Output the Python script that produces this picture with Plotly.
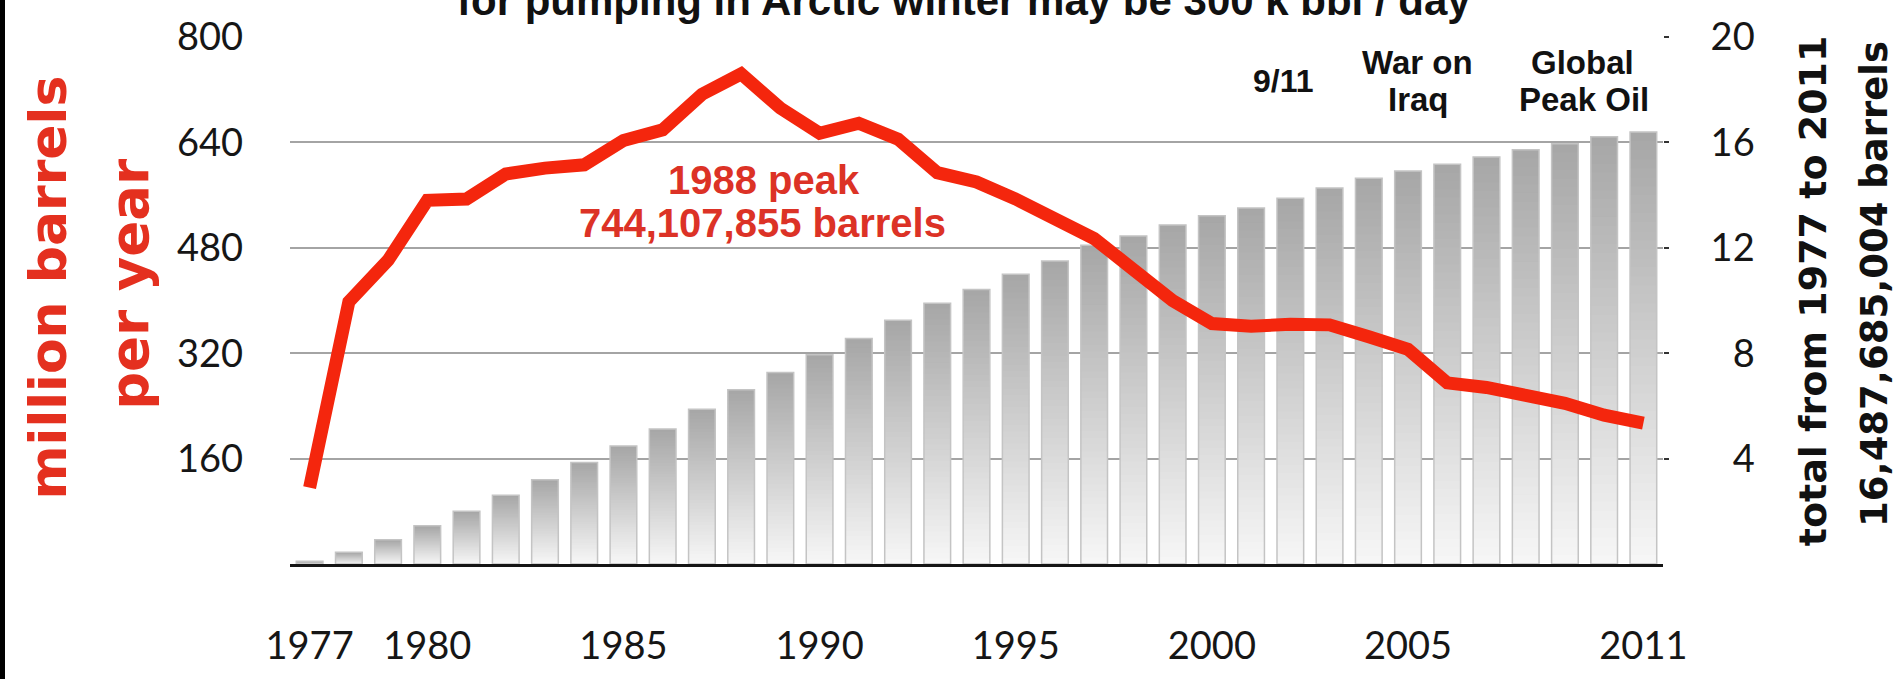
import plotly.graph_objects as go

# ---------------- data ----------------
years = list(range(1977, 2012))
annual_million_bbl = [116, 398, 461, 552, 554, 592, 601, 606, 643, 659,
                      713, 744, 692, 654, 669, 645, 594, 580, 554, 526,
                      494, 447, 400, 365, 361, 364, 363, 345, 326, 275,
                      268, 256, 244, 226, 214]
cumulative_billion_bbl = [0.1, 0.45, 0.92, 1.45, 2.0, 2.61, 3.2, 3.85, 4.48, 5.12,
                          5.87, 6.61, 7.27, 7.94, 8.56, 9.25, 9.9, 10.42, 11.0, 11.5,
                          12.1, 12.45, 12.87, 13.22, 13.51, 13.88, 14.27, 14.64, 14.91, 15.17,
                          15.45, 15.72, 15.95, 16.21, 16.39]
x_tick_years = [1977, 1980, 1985, 1990, 1995, 2000, 2005, 2011]
left_ticks = [160, 320, 480, 640, 800]
right_ticks = [4, 8, 12, 16, 20]

# ---------------- figure ----------------
W, H = 1902, 679
ML, MR, MT, MB = 290, 239, 31, 76
PW, PH = W - ML - MR, H - MT - MB


def px_x(p):
    return (p - ML) / PW


def px_y(p):
    return (H - MB - p) / PH


fig = go.Figure()

# gradient bars: each bar is built from stacked slices, dark at top, light at bottom
N = 48
top_c = (166, 166, 166)
bot_c = (247, 247, 247)
overlap = 0.06  # small overlap (axis units) so no seams show between slices
for k in range(N):
    f = (k + 0.5) / N
    c = tuple(int(round(bot_c[i] + (top_c[i] - bot_c[i]) * f)) for i in range(3))
    ext = overlap if k < N - 1 else 0.0
    fig.add_trace(go.Bar(
        x=years,
        y=[min(v / N + ext, v - v * k / N) for v in cumulative_billion_bbl],
        base=[v * k / N for v in cumulative_billion_bbl],
        marker=dict(color="rgb(%d,%d,%d)" % c, line=dict(width=0)),
        width=0.68, yaxis="y", hoverinfo="skip", showlegend=False))

# bar outlines
fig.add_trace(go.Bar(
    x=years, y=cumulative_billion_bbl,
    marker=dict(color="rgba(0,0,0,0)", line=dict(color="#c4c4c4", width=1.5)),
    width=0.68, yaxis="y", showlegend=False))

# annual production line
fig.add_trace(go.Scatter(
    x=years, y=annual_million_bbl, mode="lines", yaxis="y2",
    line=dict(color="#f4260d", width=13), showlegend=False))

tick_font = dict(family="Lato", size=38, color="#161616")

fig.update_layout(
    width=W, height=H,
    margin=dict(l=ML, r=MR, t=MT, b=MB),
    paper_bgcolor="white", plot_bgcolor="white",
    barmode="overlay",
    showlegend=False,
    xaxis=dict(range=[1976.5, 2011.5], tickvals=x_tick_years,
               ticktext=[str(v) for v in x_tick_years],
               tickfont=tick_font, showgrid=False, zeroline=False,
               showline=True, linecolor="#151515", linewidth=3,
               ticks="", ticklabelstandoff=46),
    yaxis=dict(side="right", range=[0, 20], tickvals=right_ticks,
               ticktext=[("\u2007" + str(v)) if v < 10 else str(v) for v in right_ticks],
               tickfont=tick_font, showgrid=True, gridcolor="#a4a4a4",
               gridwidth=2, zeroline=False, showline=False,
               ticks="outside", ticklen=5, tickwidth=2, tickcolor="#333333",
               ticklabelstandoff=34),
    yaxis2=dict(overlaying="y", side="left", range=[0, 800],
                tickvals=left_ticks, ticktext=[str(v) for v in left_ticks],
                tickfont=tick_font, showgrid=False, zeroline=False,
                showline=False, ticks="", ticklabelstandoff=46),
)

red_title1 = dict(family="DejaVu Sans", size=52, color="#e4301f")
red_title2 = dict(family="DejaVu Sans", size=53, color="#e4301f")
black_title1 = dict(family="DejaVu Sans", size=38, color="#111111")
black_title2 = dict(family="DejaVu Sans", size=37, color="#111111")
ann_red = dict(family="Liberation Sans", size=40, color="#dc3226")
ann_black = dict(family="Liberation Sans", size=33, color="#111111")
ann_black_s = dict(family="Liberation Sans", size=32, color="#111111")


def label(text, xp, yp, font):
    return dict(text=text, xref="paper", yref="paper", x=px_x(xp), y=px_y(yp),
                xanchor="center", yanchor="middle", showarrow=False,
                font=font, borderpad=0)


annotations = [
    # cut-off headline at the very top
    label("<b>for pumping in Arctic winter may be 300 k bbl / day</b>", 964, -9,
          dict(family="Liberation Sans", size=42, color="#111111")),
    # peak annotation (two lines)
    label("<b>1988 peak</b>", 764, 186, ann_red),
    label("<b>744,107,855 barrels</b>", 762, 233, ann_red),
    # event labels
    label("<b>9/11</b>", 1283, 79, ann_black_s),
    label("<b>War on</b>", 1417, 59, ann_black),
    label("<b>Iraq</b>", 1418, 99, ann_black),
    label("<b>Global</b>", 1582, 59, ann_black),
    label("<b>Peak Oil</b>", 1584, 99, ann_black),
]

# rotated axis titles
for text, xp, yp, font in [
        ("<b>million barrels</b>", 48, 303, red_title1),
        ("<b>per year</b>", 130, 300, red_title2),
        ("<b>total from 1977 to 2011</b>", 1813, 307, black_title1),
        ("<b>16,487,685,004 barrels</b>", 1875, 299, black_title2)]:
    a = label(text, xp, yp, font)
    a["textangle"] = -90
    annotations.append(a)

fig.update_layout(annotations=annotations)

# thin black strip on the left edge of the picture
fig.add_shape(type="rect", xref="paper", yref="paper",
              x0=px_x(-10), x1=px_x(5), y0=-0.4, y1=1.4,
              fillcolor="black", line=dict(width=0), layer="above")

# remove the default page margin so the figure sits at the window's corner
fig.write_html("out.html",
               config={"displayModeBar": False},
               post_script="document.body.style.margin='0';"
                           "document.body.style.padding='0';")
